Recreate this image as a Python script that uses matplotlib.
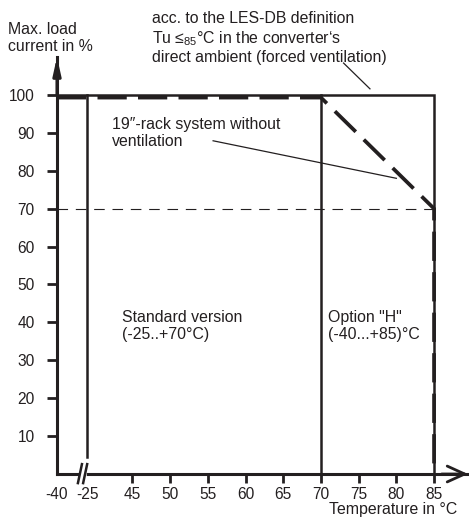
import numpy as np
import matplotlib
matplotlib.use('Agg')
import matplotlib.pyplot as plt

plt.rcParams['font.family'] = ['Liberation Sans', 'DejaVu Sans']
plt.rcParams['font.size'] = 11.4
plt.rcParams['mathtext.fontset'] = 'custom'
plt.rcParams['mathtext.rm'] = 'Liberation Sans'

# ── Data ───────────────────────────────────────────────────────────────────────
temp_ticks = [-40, -25, 45, 50, 55, 60, 65, 70, 75, 80, 85]
temp_labels = [str(t) for t in temp_ticks]
load_ticks = [10, 20, 30, 40, 50, 60, 70, 80, 90, 100]

# forced ventilation (LES-DB definition): 100 % up to 85 °C
forced_temp = [-40, 85, 85]
forced_load = [100, 100, 0]
# 19"-rack without ventilation: derating from 70 °C
rack_temp = [-40, 70, 85, 85]
rack_load = [99.3, 99.3, 70, 0]
std_range = [-25, 70]      # standard version
opt_range = [-40, 85]      # option "H"
derate_level = 70

# broken temperature axis: -40..-25 and -25..45 squeezed
brk_vals = [-40, -25, 45, 100]
brk_pos = [35, 39, 45, 100]


def fwd(v):
    return np.interp(v, brk_vals, brk_pos)


def inv(p):
    return np.interp(p, brk_pos, brk_vals)


W, H = 469, 518
INK = '#231f20'


def fp(x, y):
    return x / W, 1 - y / H


# ── Layout ─────────────────────────────────────────────────────────────────────
fig = plt.figure(figsize=(W / 100, H / 100), dpi=100)
fig.patch.set_facecolor('white')
ax = fig.add_axes([57 / W, 1 - 474 / H, 411 / W, 417 / H])
ax.set_xscale('function', functions=(fwd, inv))
ax.set_xlim(-40, 89.5)
ax.set_ylim(0, 110)

# ── Lines ──────────────────────────────────────────────────────────────────────
ax.plot(forced_temp, forced_load, color=INK, lw=1.8, solid_joinstyle='miter',
        clip_on=False, zorder=3)
ax.plot([std_range[0]] * 2, [4.5, 100], color=INK, lw=1.8, zorder=3)
ax.plot([std_range[1]] * 2, [0, 100], color=INK, lw=1.8, zorder=3)
ax.plot([opt_range[0], opt_range[1]], [derate_level] * 2, color=INK, lw=0.8,
        dashes=(9.5, 7), zorder=2)
ax.plot(rack_temp, rack_load, color=INK, lw=2.7, dashes=(7.8, 3.0),
        zorder=4, clip_on=False)

# ── Leader lines ───────────────────────────────────────────────────────────────
ax.plot([73.0, 76.5], [108.4, 101.6], color=INK, lw=0.9, clip_on=False)
ax.plot([55.7, 80.0], [87.9, 78.0], color=INK, lw=0.9)

# ── Axes formatting ────────────────────────────────────────────────────────────
for s in ['top', 'right']:
    ax.spines[s].set_visible(False)
for s in ['left', 'bottom']:
    ax.spines[s].set_linewidth(2.2)
    ax.spines[s].set_color(INK)

ax.set_yticks(load_ticks)
ax.set_yticklabels([str(v) for v in load_ticks])
ax.set_xticks(temp_ticks)
ax.set_xticklabels(temp_labels)
ax.xaxis.set_minor_locator(plt.NullLocator())
ax.tick_params(axis='y', length=7.2, width=2.0, pad=9, colors=INK,
               labelcolor=INK, labelsize=11.2)
ax.tick_params(axis='x', length=6.5, width=2.0, pad=3, colors=INK,
               labelcolor=INK, labelsize=11.2)
for t in ax.xaxis.get_major_ticks()[:2]:
    t.tick1line.set_visible(False)

# axis arrows
ax.annotate('', xy=(-40, 110), xytext=(-40, 100),
            arrowprops=dict(arrowstyle='-|>,head_length=0.9,head_width=0.2',
                            color=INK, lw=2.2, shrinkA=0, shrinkB=0),
            annotation_clip=False)
ax.annotate('', xy=(89.5, 0), xytext=(86, 0),
            arrowprops=dict(arrowstyle='->,head_length=1.1,head_width=0.5',
                            color=INK, lw=2.0, shrinkA=0, shrinkB=0),
            annotation_clip=False)

# axis break marks
ax.plot([-27.8, -26.8], [0, 0], color='white', lw=4, clip_on=False, zorder=5)
for xb in (-28.6, -26.0):
    ax.plot([xb - 1.0, xb + 1.0], [-2.4, 2.6], color=INK, lw=1.8,
            clip_on=False, zorder=6)

# ── Texts ──────────────────────────────────────────────────────────────────────
fig.text(*fp(8, 22), 'Max. load\ncurrent in %', va='top', ha='left',
         color=INK, linespacing=1.15)
fig.text(*fp(152, 11),
         'acc. to the LES-DB definition\n'
         'Tu ≤$_{\\mathrm{85}}$°C in the converter‘s\n'
         'direct ambient (forced ventilation)',
         va='top', ha='left', color=INK, linespacing=1.2)
fig.text(*fp(112, 117), '19″-rack system without\nventilation',
         va='top', ha='left', color=INK, linespacing=1.2)
fig.text(*fp(122, 310), 'Standard version\n(-25..+70°C)',
         va='top', ha='left', color=INK, linespacing=1.2)
fig.text(*fp(328, 310), 'Option "H"\n(-40...+85)°C',
         va='top', ha='left', color=INK, linespacing=1.2)
fig.text(*fp(457, 502), 'Temperature in °C', va='top', ha='right', color=INK)

plt.savefig('out.png', dpi=100, facecolor='white')
